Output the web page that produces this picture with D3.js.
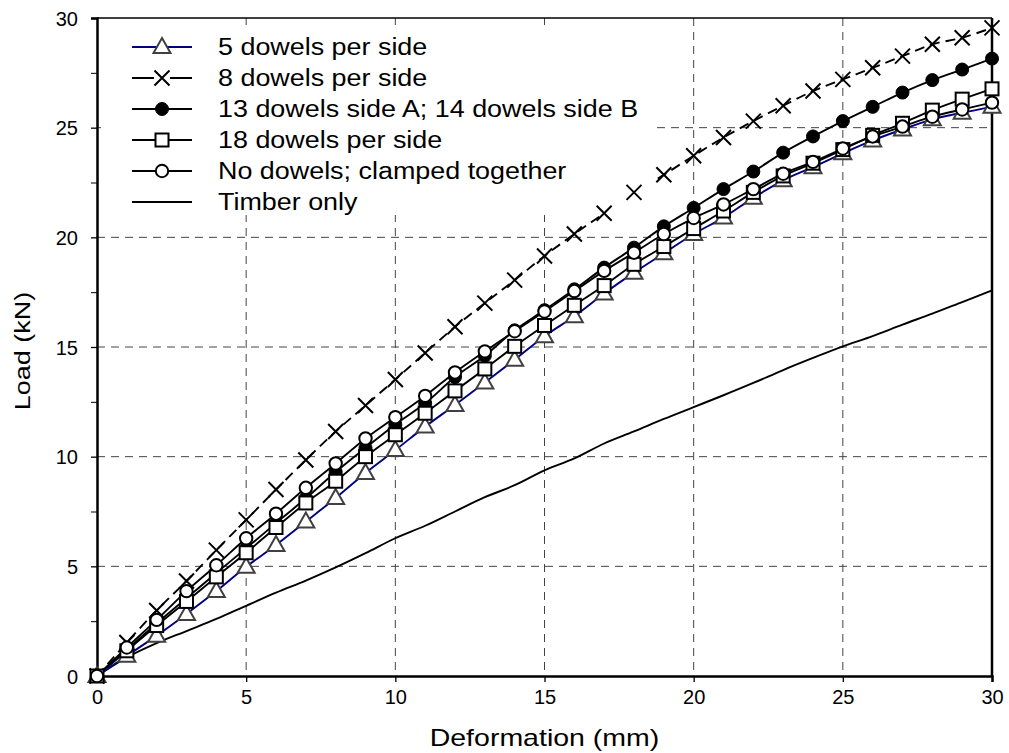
<!DOCTYPE html>
<html>
<head>
<meta charset="utf-8">
<script src="https://cdn.jsdelivr.net/npm/d3@7"></script>
<style>
  body { margin: 0; background: #fff; }
  text { font-family: "Liberation Sans", Arial, sans-serif; }
</style>
</head>
<body>
<script>
// Deformation (mm) at which every reading was taken
let deform = [0, 1, 2, 3, 4, 5, 6, 7, 8, 9, 10, 11, 12, 13, 14, 15,
  16, 17, 18, 19, 20, 21, 22, 23, 24, 25, 26, 27, 28, 29, 30];

// Load (kN) for each test
let dowels5 = [0, 0.92, 1.84, 2.83, 3.87, 4.98, 5.97, 7.04, 8.12, 9.26, 10.3,
  11.37, 12.36, 13.38, 14.42, 15.49, 16.4, 17.44, 18.39, 19.27, 20.15,
  20.9, 21.8, 22.6, 23.2, 23.83, 24.42, 24.92, 25.38, 25.68, 25.95];
let dowels8 = [0, 1.53, 2.99, 4.33, 5.74, 7.12, 8.5, 9.85, 11.15, 12.33, 13.52,
  14.73, 15.92, 17.0, 18.05, 19.15, 20.15, 21.1, 22.05, 22.85, 23.72,
  24.55, 25.3, 26.0, 26.67, 27.2, 27.73, 28.26, 28.8, 29.1, 29.55];
let dowels13 = [0, 1.2, 2.4, 3.55, 4.7, 5.82, 6.97, 8.1, 9.3, 10.4, 11.47,
  12.43, 13.63, 14.6, 15.76, 16.68, 17.63, 18.62, 19.53, 20.5, 21.34,
  22.2, 23.0, 23.86, 24.6, 25.3, 25.95, 26.6, 27.17, 27.65, 28.15];
let dowels18 = [0, 1.15, 2.3, 3.4, 4.52, 5.62, 6.77, 7.89, 8.88, 10.0, 11.0,
  11.98, 13.0, 14.0, 15.03, 15.98, 16.9, 17.8, 18.77, 19.58, 20.4,
  21.2, 22.05, 22.8, 23.38, 24.0, 24.65, 25.2, 25.8, 26.3, 26.77];
let noDowels = [0, 1.3, 2.56, 3.87, 5.05, 6.28, 7.4, 8.58, 9.69, 10.83, 11.8,
  12.77, 13.84, 14.8, 15.72, 16.62, 17.55, 18.47, 19.3, 20.15, 20.88,
  21.5, 22.2, 22.9, 23.44, 24.05, 24.6, 25.05, 25.5, 25.83, 26.14];
let timber = [0, 0.85, 1.5, 2.05, 2.6, 3.2, 3.8, 4.35, 4.95, 5.6, 6.28,
  6.85, 7.5, 8.15, 8.7, 9.38, 9.92, 10.6, 11.15, 11.72, 12.26,
  12.8, 13.36, 13.95, 14.5, 15.03, 15.5, 16.02, 16.52, 17.05, 17.58];

let xTicks = [0, 5, 10, 15, 20, 25, 30];
let yTicks = [0, 5, 10, 15, 20, 25, 30];
let yMinor = [2.5, 7.5, 12.5, 17.5, 22.5, 27.5];

let series = [
  { name: "5 dowels per side", values: dowels5, marker: "triangle", color: "#000080", mcolor: "#404040", dash: null },
  { name: "8 dowels per side", values: dowels8, marker: "cross", color: "#000", mcolor: "#000", dash: "10,6" },
  { name: "13 dowels side A; 14 dowels side B", values: dowels13, marker: "dot", color: "#000", mcolor: "#000", dash: null },
  { name: "18 dowels per side", values: dowels18, marker: "square", color: "#000", mcolor: "#000", dash: null },
  { name: "No dowels; clamped together", values: noDowels, marker: "circle", color: "#000", mcolor: "#000", dash: null },
  { name: "Timber only", values: timber, marker: null, color: "#000", mcolor: "#000", dash: null }
];

let margin = { top: 18, right: 17, bottom: 77, left: 97 };
let width = 1009 - margin.left - margin.right;
let height = 753 - margin.top - margin.bottom;

let svg = d3.select("body")
  .append("svg")
    .attr("width", 1009)
    .attr("height", 753)
  .append("g")
    .attr("transform", "translate(" + margin.left + "," + margin.top + ")");

let x = d3.scaleLinear().domain([0, 30]).range([0, width]);
let y = d3.scaleLinear().domain([0, 30]).range([height, 0]);

// dashed grid
svg.selectAll(".gx")
  .data(xTicks.slice(1, -1)).enter().append("line")
    .attr("x1", (d) => x(d)).attr("x2", (d) => x(d))
    .attr("y1", 0).attr("y2", height)
    .attr("stroke", "#444").attr("stroke-width", 1)
    .attr("stroke-dasharray", "8,6");
svg.selectAll(".gy")
  .data(yTicks.slice(1, -1)).enter().append("line")
    .attr("x1", 0).attr("x2", width)
    .attr("y1", (d) => y(d)).attr("y2", (d) => y(d))
    .attr("stroke", "#444").attr("stroke-width", 1)
    .attr("stroke-dasharray", "8,6");

// axes
let xAxis = svg.append("g")
  .attr("transform", "translate(0," + height + ")")
  .call(d3.axisBottom(x).tickValues(xTicks).tickSize(6).tickPadding(8));
let yAxis = svg.append("g")
  .call(d3.axisLeft(y).tickValues(yTicks).tickSize(6).tickPadding(13));
svg.append("g")
  .call(d3.axisLeft(y).tickValues(yMinor).tickSize(6).tickFormat(""))
  .select(".domain").remove();

[xAxis, yAxis].forEach((a) => {
  a.selectAll("text").style("font-size", "20px").attr("fill", "#000");
  a.selectAll("line").attr("stroke-width", 1.3);
  a.select(".domain").attr("stroke-width", 2.5);
});
yAxis.selectAll("text").attr("dy", "0.35em");

// top and right frame
svg.append("line").attr("x1", 0).attr("x2", width).attr("y1", 0).attr("y2", 0)
  .attr("stroke", "#000").attr("stroke-width", 1.5);
svg.append("line").attr("x1", width).attr("x2", width).attr("y1", 0).attr("y2", height)
  .attr("stroke", "#000").attr("stroke-width", 2.5);

// axis titles
svg.append("text")
  .attr("transform", "translate(" + (width / 2) + "," + (height + 70) + ") scale(1.24,1)")
  .attr("text-anchor", "middle")
  .style("font-size", "23px")
  .text("Deformation (mm)");
svg.append("text")
  .attr("transform", "translate(" + (-67) + "," + (height / 2 + 4) + ") rotate(-90) scale(1,0.85)")
  .attr("text-anchor", "middle")
  .style("font-size", "27px")
  .text("Load (kN)");

let line = d3.line()
  .x((d, i) => x(deform[i]))
  .y((d) => y(d))
  .curve(d3.curveCatmullRom);

function drawMarker(g, type, cx, cy, color) {
  if (type === "triangle") {
    g.append("path")
      .attr("d", "M" + cx + "," + (cy - 9) + "L" + (cx + 8.5) + "," + (cy + 6) + "L" + (cx - 8.5) + "," + (cy + 6) + "Z")
      .attr("fill", "#fff").attr("stroke", color).attr("stroke-width", 2);
  } else if (type === "cross") {
    g.append("path")
      .attr("d", "M" + (cx - 7.5) + "," + (cy - 7.5) + "L" + (cx + 7.5) + "," + (cy + 7.5) +
        "M" + (cx + 7.5) + "," + (cy - 7.5) + "L" + (cx - 7.5) + "," + (cy + 7.5))
      .attr("stroke", color).attr("stroke-width", 2);
  } else if (type === "dot") {
    g.append("circle").attr("cx", cx).attr("cy", cy).attr("r", 6.5)
      .attr("fill", color).attr("stroke", color).attr("stroke-width", 1);
  } else if (type === "square") {
    g.append("rect").attr("x", cx - 6.5).attr("y", cy - 6.5).attr("width", 13).attr("height", 13)
      .attr("fill", "#fff").attr("stroke", color).attr("stroke-width", 2);
  } else if (type === "circle") {
    g.append("circle").attr("cx", cx).attr("cy", cy).attr("r", 6.2)
      .attr("fill", "#fff").attr("stroke", color).attr("stroke-width", 2);
  }
}

// lines first, markers on top
series.slice().reverse().forEach((s) => {
  svg.append("path")
    .datum(s.values)
    .attr("d", line)
    .attr("fill", "none")
    .attr("stroke", s.color)
    .attr("stroke-width", 1.9)
    .attr("stroke-dasharray", s.dash);
});

// legend sits on a white patch that hides the grid behind it
svg.append("rect")
  .attr("x", 4).attr("y", 7).attr("width", 552).attr("height", 190)
  .attr("fill", "#fff");

series.forEach((s) => {
  if (!s.marker) return;
  let g = svg.append("g");
  s.values.forEach((v, i) => drawMarker(g, s.marker, x(deform[i]), y(v), s.mcolor));
});

let legend = svg.append("g").attr("transform", "translate(35,29)");
series.forEach((s, i) => {
  let row = legend.append("g").attr("transform", "translate(0," + (i * 31) + ")");
  row.append("line").attr("x1", 0).attr("x2", 60).attr("y1", 0).attr("y2", 0)
    .attr("stroke", s.color).attr("stroke-width", 1.9)
    .attr("stroke-dasharray", s.dash ? "22,16" : null);
  if (s.marker) drawMarker(row, s.marker, 30, 0, s.mcolor);
  row.append("text")
    .attr("transform", "translate(86,0) scale(1.17,1)")
    .attr("dy", "0.35em")
    .style("font-size", "23px")
    .text(s.name);
});
</script>
</body>
</html>
